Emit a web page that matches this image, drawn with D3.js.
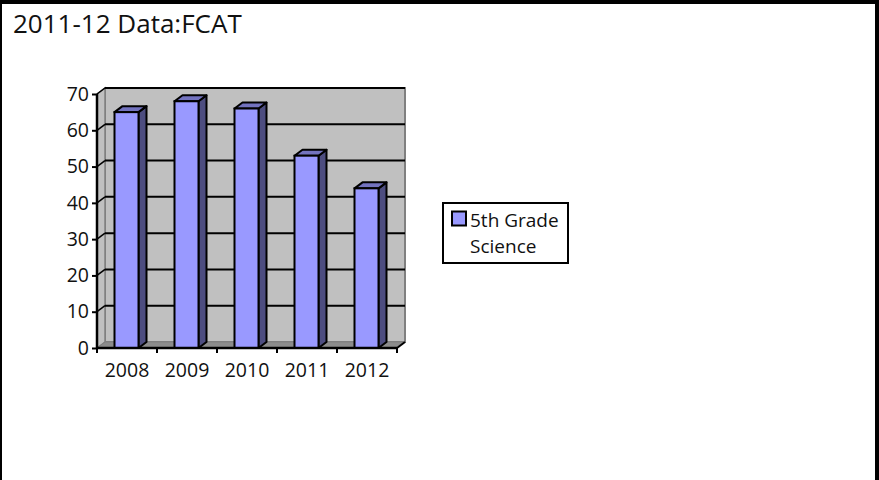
<!DOCTYPE html>
<html><head><meta charset="utf-8">
<script src="https://cdn.jsdelivr.net/npm/d3@7"></script>
<style>body{margin:0;background:#fff}svg{display:block}text{font-family:"Open Sans",sans-serif}</style>
</head><body><svg id="c" width="879" height="480"></svg>
<script>
const categories = ["2008","2009","2010","2011","2012"];
const values = [65, 68, 66, 53, 44];
const yTicks = [0,10,20,30,40,50,60,70];
const seriesName = ["5th Grade","Science"];
const title = "2011-12 Data:FCAT";

const svg = d3.select("#c");
// frame
svg.append("rect").attr("x",0).attr("y",0).attr("width",879).attr("height",480).attr("fill","#fff");
svg.append("rect").attr("x",0).attr("y",0).attr("width",879).attr("height",4).attr("fill","#000");
svg.append("rect").attr("x",0).attr("y",0).attr("width",2).attr("height",480).attr("fill","#000");
svg.append("rect").attr("x",875).attr("y",0).attr("width",4).attr("height",480).attr("fill","#000");

svg.append("text").attr("x",13).attr("y",33).attr("font-size",26).attr("fill","#111").text(title);

const x = d3.scaleBand().domain(categories).range([97,397]).padding(0);
const y = d3.scaleLinear().domain([0,70]).range([348,94]);
const dx = 8, dy = -6;
const x0 = 97, x1 = 397, yb = y(0), yt = y(70);

// back wall
svg.append("rect").attr("x",x0+dx).attr("y",yt+dy).attr("width",x1-x0).attr("height",yb-yt)
  .attr("fill","#c0c0c0").attr("stroke","#808080").attr("stroke-width",2);
// left wall
svg.append("path").attr("d",`M${x0},${yt}L${x0+dx},${yt+dy}L${x0+dx},${yb+dy}L${x0},${yb}Z`)
  .attr("fill","#c0c0c0").attr("stroke","#808080").attr("stroke-width",1.5);
// floor
svg.append("path").attr("d",`M${x0},${yb}L${x0+dx},${yb+dy}L${x1+dx},${yb+dy}L${x1},${yb}Z`)
  .attr("fill","#8c8c8c").attr("stroke","#808080").attr("stroke-width",1);
// gridlines on back wall
svg.append("g").selectAll("line").data(yTicks.filter(t=>t>0)).join("line")
  .attr("x1",x0+dx).attr("x2",x1+dx).attr("y1",d=>y(d)+dy).attr("y2",d=>y(d)+dy)
  .attr("stroke","#000").attr("stroke-width",2);
// grid diagonal on left wall
svg.append("g").selectAll("line").data(yTicks.filter(t=>t>0)).join("line")
  .attr("x1",x0).attr("x2",x0+dx).attr("y1",d=>y(d)).attr("y2",d=>y(d)+dy)
  .attr("stroke","#000").attr("stroke-width",1.5);

// bars
const bw = 24;
const g = svg.append("g");
categories.forEach((c,i)=>{
  const bx = x(c) + x.bandwidth()/2 - bw/2 - 0.5;
  const top = y(values[i]);
  g.append("path").attr("d",`M${bx+bw},${top}L${bx+bw+dx},${top+dy}L${bx+bw+dx},${yb+dy}L${bx+bw},${yb}Z`)
    .attr("fill","#4d4d80").attr("stroke","#000").attr("stroke-width",2).attr("stroke-linejoin","round");
  g.append("path").attr("d",`M${bx},${top}L${bx+dx},${top+dy}L${bx+bw+dx},${top+dy}L${bx+bw},${top}Z`)
    .attr("fill","#7373bf").attr("stroke","#000").attr("stroke-width",2).attr("stroke-linejoin","round");
  g.append("rect").attr("x",bx).attr("y",top).attr("width",bw).attr("height",yb-top)
    .attr("fill","#9999ff").attr("stroke","#000").attr("stroke-width",2);
});

// axes
const yAxis = d3.axisLeft(y).tickValues(yTicks).tickSize(5).tickPadding(3);
const ya = svg.append("g").attr("transform",`translate(${x0},0)`).call(yAxis);
ya.select(".domain").attr("stroke","#000").attr("stroke-width",2.5).attr("d",`M0,${yt}V${yb}`);
ya.selectAll(".tick line").attr("stroke","#000").attr("stroke-width",2);
ya.selectAll(".tick text").attr("font-size",19.5).attr("fill","#111").attr("font-family","Open Sans");

const xa = svg.append("g").attr("transform",`translate(0,${yb})`)
  .call(d3.axisBottom(x).tickSize(0).tickPadding(15));
xa.select(".domain").remove();
xa.selectAll(".tick text").attr("font-size",19.5).attr("fill","#111").attr("font-family","Open Sans");
svg.append("line").attr("x1",x0).attr("x2",x1).attr("y1",yb).attr("y2",yb).attr("stroke","#000").attr("stroke-width",2.5);
svg.append("line").attr("x1",x1).attr("x2",x1+dx).attr("y1",yb).attr("y2",yb+dy).attr("stroke","#000").attr("stroke-width",2);
// category ticks
svg.append("g").selectAll("line").data(d3.range(categories.length+1)).join("line")
  .attr("x1",i=>x0+i*x.step()).attr("x2",i=>x0+i*x.step()).attr("y1",yb).attr("y2",yb+5)
  .attr("stroke","#000").attr("stroke-width",2);

// legend
const lg = svg.append("g");
lg.append("rect").attr("x",443).attr("y",203).attr("width",125).attr("height",60)
  .attr("fill","#fff").attr("stroke","#000").attr("stroke-width",2);
lg.append("rect").attr("x",452).attr("y",211.5).attr("width",14).attr("height",14)
  .attr("fill","#9999ff").attr("stroke","#000").attr("stroke-width",2);
lg.selectAll("text.l").data(seriesName).join("text").attr("class","l")
  .attr("x",470).attr("y",(d,i)=>227+i*26).attr("font-size",19).attr("fill","#111").text(d=>d);
</script></body></html>
